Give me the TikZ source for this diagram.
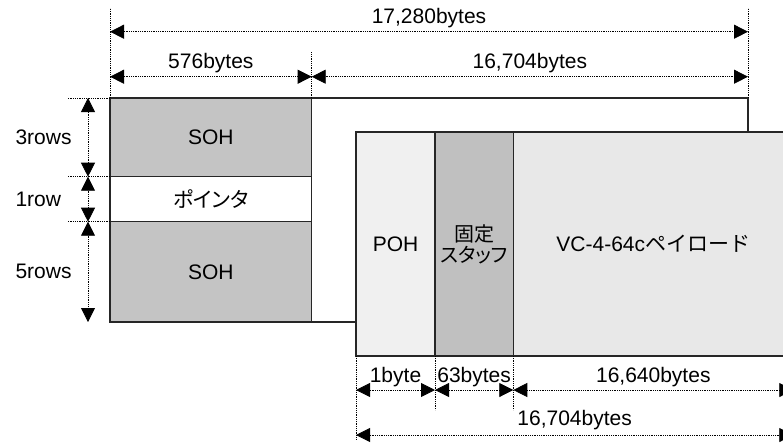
\documentclass[tikz,border=0pt]{standalone}
\usepackage{fontspec}
\setmainfont{Liberation Sans}
\newfontfamily\jpfont{Noto Sans CJK JP}
\newfontfamily\jpnarrow[RawFeature=+palt]{Noto Sans CJK JP}
\usetikzlibrary{arrows.meta}
\definecolor{sohgray}{HTML}{C4C4C4}
\definecolor{stuffgray}{HTML}{C0C0C0}
\definecolor{pohgray}{HTML}{F0F0F0}
\definecolor{loadgray}{HTML}{E8E8E8}

\begin{document}
\begin{tikzpicture}[x=1pt,y=-1pt,
  font=\fontsize{21}{23}\selectfont,
  box/.style={draw=black!85,line width=1.2pt,inner sep=0pt,outer sep=0pt,anchor=north west},
  extline/.style={densely dotted,line width=0.8pt},
  dimline/.style={densely dotted,line width=0.8pt,
    {Triangle[length=14pt,width=14pt]}-{Triangle[length=14pt,width=14pt]}},
  dimlbl/.style={anchor=base,yshift=8pt}]
  \useasboundingbox (0,0) rectangle (783,445);
  % STM frame and section overhead
  \node[box,fill=white,minimum width=638pt,minimum height=224pt] (stm) at (110,98) {};
  \node[box,fill=sohgray,minimum width=201.7pt,minimum height=78.7pt] (soh1) at (110,98) {SOH};
  \node[box,fill=white,minimum width=201.7pt,minimum height=45pt] (ptr) at (110,176.7) {\jpnarrow ポインタ};
  \node[box,fill=sohgray,minimum width=201.7pt,minimum height=100.3pt] (soh2) at (110,221.7) {SOH};
  % VC-4-64c
  \node[box,fill=pohgray,minimum width=79pt,minimum height=224pt] (poh) at (356,132) {POH};
  \node[box,fill=stuffgray,minimum width=78.3pt,minimum height=224pt,align=center,
    font=\fontsize{20}{21}\selectfont\jpnarrow] (stuff) at (435,132) {固定\\スタッフ};
  \node[box,fill=loadgray,minimum width=280pt,minimum height=224pt] (load) at (513.3,132) {VC-4-64c{\jpfont ペイロード}};
  % extension lines
  \draw[extline] (stm.north west) -- ++(0,-90);
  \draw[extline] (stm.north east) -- ++(0,-90);
  \draw[extline] (soh1.north east) -- ++(0,-46);
  \draw[extline] (soh1.north west) -- ++(-43,0);
  \draw[extline] (ptr.north west) -- ++(-43,0);
  \draw[extline] (soh2.north west) -- ++(-43,0);
  \draw[extline] (poh.south west) -- ++(0,84);
  \draw[extline] (stuff.south west) -- ++(0,54);
  \draw[extline] (load.south west) -- ++(0,54);
  % dimension points
  \coordinate (a0) at (110,31.7);
  \coordinate (a1) at (748,31.7);
  \coordinate (b0) at (110,76.7);
  \coordinate (b1) at (311.7,76.7);
  \coordinate (b2) at (748,76.7);
  \coordinate (r0) at (88,98);
  \coordinate (r1) at (88,176.7);
  \coordinate (r2) at (88,221.7);
  \coordinate (r3) at (88,322);
  \coordinate (c0) at (356,390);
  \coordinate (c1) at (435,390);
  \coordinate (c2) at (513.3,390);
  \coordinate (c3) at (793.3,390);
  \coordinate (d0) at (356,435);
  \coordinate (d1) at (793.3,435);
  % dimensions
  \draw[dimline] (a0) -- node[dimlbl] (w1) {17,280bytes} (a1);
  \draw[dimline] (b0) -- node[dimlbl] (w2) {576bytes} (b1);
  \draw[dimline] (b1) -- node[dimlbl] (w3) {16,704bytes} (b2);
  \draw[dimline] (r0) -- (r1);
  \draw[dimline] (r1) -- (r2);
  \draw[dimline] (r2) -- (r3);
  \node[anchor=west] (h1) at (12,137.3) {3rows};
  \node[anchor=west] (h2) at (12,199.2) {1row};
  \node[anchor=west] (h3) at (12,271.8) {5rows};
  \draw[dimline] (c0) -- node[dimlbl] (w4) {1byte} (c1);
  \draw[dimline] (c1) -- node[dimlbl] (w5) {63bytes} (c2);
  \draw[dimline] (c2) -- node[dimlbl] (w6) {16,640bytes} (c3);
  \draw[dimline] (d0) -- node[dimlbl,yshift=2pt] (w7) {16,704bytes} (d1);
\end{tikzpicture}
\end{document}
